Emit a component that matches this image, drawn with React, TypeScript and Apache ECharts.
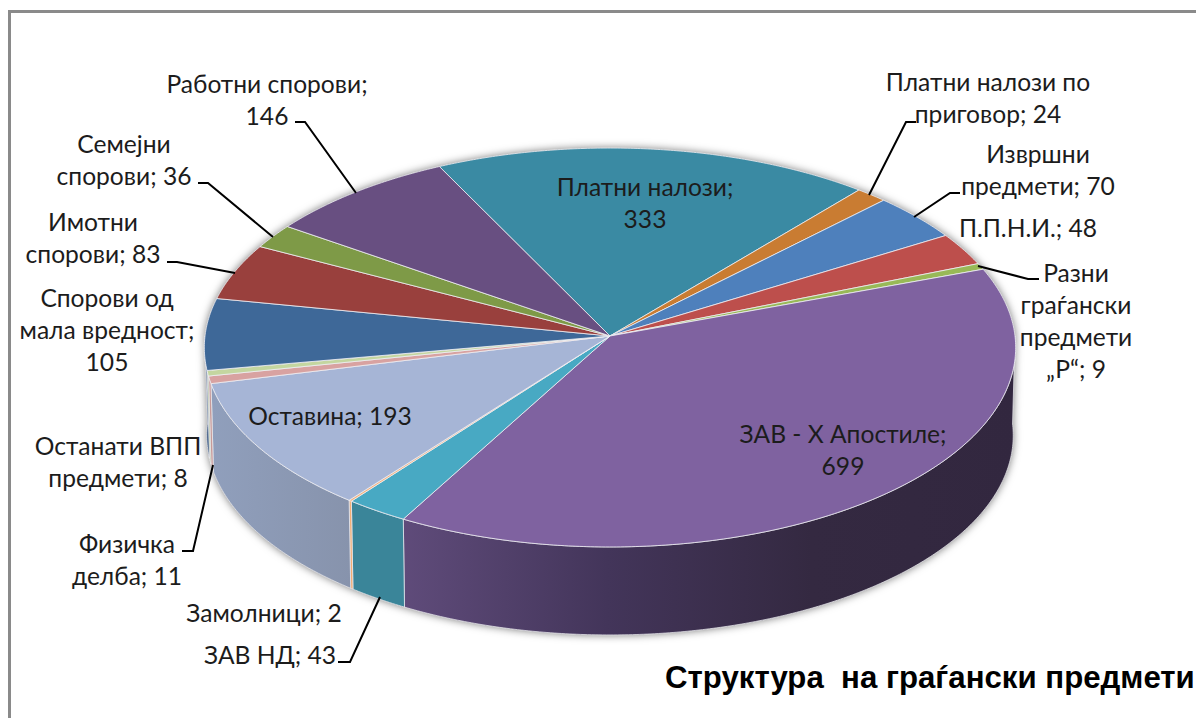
import React, { useEffect, useRef } from "react";
import * as echarts from "echarts";

const categories = [
  "Платни налози", "Платни налози по приговор", "Извршни предмети", "П.П.Н.И.",
  "Разни граѓански предмети „Р“", "ЗАВ - Х Апостиле", "ЗАВ НД", "Замолници", "Оставина",
  "Физичка делба", "Останати ВПП предмети", "Спорови од мала вредност", "Имотни спорови",
  "Семејни спорови", "Работни спорови",
];
const values = [333, 24, 70, 48, 9, 699, 43, 2, 193, 11, 8, 105, 83, 36, 146];
const topColors = [
  "#3a8aa3", "#c97c32", "#4e80bc", "#bd4f4c", "#98b957", "#7f62a0", "#48a9c3", "#f6b27c",
  "#a6b5d6", "#d8a2a1", "#c4d6a0", "#3e6898", "#99403d", "#7e9a47", "#684f81",
];
const wallColors = [
  "#2c6a7d", "#9a5f26", "#3c6291", "#913c3a", "#758e42", "#5f4a7c", "#3a8599", "#f2ad74",
  "#8f9fbc", "#c79a99", "#a8b98a", "#2f507a", "#75302e", "#607636", "#4f3c63",
];
const zavWallStops = ["#5f4b7a", "#43355a", "#342941", "#32273f"];
const oWallStops = ["#909fbc", "#8793ac"];

// word counts per text line of each data label
const labelBreaks = [
  [2, 1], [3, 2], [1, 2], [2], [1, 1, 1, 2], [4, 1], [3], [2], [2], [1, 2], [2, 2], [2, 2, 1], [1, 2], [1, 2], [2, 1],
];
const labelCenters = [
  [645, 202], [988, 97], [1038, 169], [1028, 227], [1076, 320], [843, 449], [270, 654], [264, 612],
  [330, 415], [127, 559], [118, 461], [107, 329], [93, 237], [124, 159], [267, 99],
];
const leaders = [
  [[916, 122], [906, 122], [869, 195]],
  [[960, 193], [950, 193], [914, 217]],
  [[1039, 279], [1028, 279], [978, 266]],
  [[338, 662], [350, 662], [380, 597]],
  [[182, 551], [193, 551], [213, 465]],
  [[167, 262], [177, 262], [235, 273]],
  [[198, 183], [208, 183], [273, 237]],
  [[295, 122], [305, 122], [356, 193]],
];
const titleText = "Структура  на граѓански предмети";

const CX = 610, CY = 336, R = 405, H = 198.8, K = 0.0576, DEPTH = 88, SHRINK = 0.994, START = -26.3;
const total = values.reduce((a, b) => a + b, 0);

function pt(deg: number, low: boolean): number[] {
  const t = (deg * Math.PI) / 180;
  const u = Math.sin(t), v = Math.cos(t), s = 1 / (1 + K * v);
  return [CX + R * u * s * (low ? SHRINK : 1), CY - H * v * s + (low ? DEPTH : 0)];
}
function arc(a: number, b: number, low: boolean): number[][] {
  const n = Math.max(2, Math.ceil(Math.abs(b - a) * 2));
  const out: number[][] = [];
  for (let i = 0; i <= n; i++) out.push(pt(a + ((b - a) * i) / n, low));
  return out;
}
function sliceRange(index: number, value: number): number[] {
  let before = 0;
  for (let i = 0; i < index; i++) before += values[i];
  return [START + (before / total) * 360, START + ((before + value) / total) * 360];
}
function hGradient(stops: string[]) {
  return new echarts.graphic.LinearGradient(
    0, 0, 1, 0,
    stops.map((color, i) => ({ offset: i / (stops.length - 1), color })),
  );
}
function labelText(i: number): string {
  const words = `${categories[i]}; ${values[i]}`.split(" ");
  let p = 0;
  return labelBreaks[i].map((n) => { const l = words.slice(p, p + n).join(" "); p += n; return l; }).join("\n");
}

export default function App() {
  const ref = useRef<HTMLDivElement>(null);
  useEffect(() => {
    document.body.style.margin = "0";
    const chart = echarts.init(ref.current!, undefined, { renderer: "svg" });
    const data = values.map((v) => [v]);
    chart.setOption({
      animation: false,
      backgroundColor: "#ffffff",
      series: [
        {
          type: "custom", coordinateSystem: "none", silent: true, z: 1, data: [[total]],
          renderItem: () => ({
            type: "polygon",
            shape: { points: [...arc(90, 270, true), ...arc(270, 450, false)] },
            style: { fill: "#777", shadowBlur: 9, shadowColor: "rgba(0,0,0,0.55)" },
          }),
        },
        {
          type: "custom", coordinateSystem: "none", silent: true, z: 2, data,
          renderItem: (params: any, api: any) => {
            const i = params.dataIndex;
            const [a0, a1] = sliceRange(i, api.value(0));
            const a = Math.max(a0, 90), b = Math.min(a1, 270);
            if (b <= a) return null;
            const fill = i === 5 ? hGradient(zavWallStops) : i === 8 ? hGradient(oWallStops) : wallColors[i];
            return {
              type: "polygon",
              shape: { points: [...arc(a, b, false), ...arc(b, a, true)] },
              style: { fill, stroke: "rgba(235,235,240,0.75)", lineWidth: 1 },
            };
          },
        },
        {
          type: "custom", coordinateSystem: "none", silent: true, z: 3, data,
          renderItem: (params: any, api: any) => {
            const i = params.dataIndex;
            const [a0, a1] = sliceRange(i, api.value(0));
            return {
              type: "polygon",
              shape: { points: [[CX, CY], ...arc(a0, a1, false)] },
              style: { fill: topColors[i], stroke: "rgba(240,240,245,0.8)", lineWidth: 1 },
            };
          },
        },
      ],
      graphic: [
        {
          type: "polyline", z: 5, silent: true,
          shape: { points: [[9.5, 718], [9.5, 11.5], [1196, 11.5]] },
          style: { stroke: "#8a8a8a", lineWidth: 3, fill: "none" },
        },
        ...leaders.map((points) => ({
          type: "polyline", z: 6, silent: true,
          shape: { points },
          style: { stroke: "#000000", lineWidth: 2, fill: "none" },
        })),
        ...categories.map((_, i) => ({
          type: "text", z: 7, silent: true,
          x: labelCenters[i][0], y: labelCenters[i][1],
          style: {
            text: labelText(i), fill: "#1c1c1c", font: '24.6px Lato, "Open Sans", sans-serif',
            lineHeight: 32, textAlign: "center", textVerticalAlign: "middle",
          },
        })),
        {
          type: "text", z: 7, silent: true, x: 665, y: 677,
          style: {
            text: titleText, fill: "#000000", font: 'bold 31.2px "Liberation Sans", Arial, sans-serif',
            textAlign: "left", textVerticalAlign: "middle",
          },
        },
      ],
    });
    return () => chart.dispose();
  }, []);
  return <div ref={ref} style={{ position: "absolute", left: 0, top: 0, width: 1196, height: 718, overflow: "hidden" }} />;
}
